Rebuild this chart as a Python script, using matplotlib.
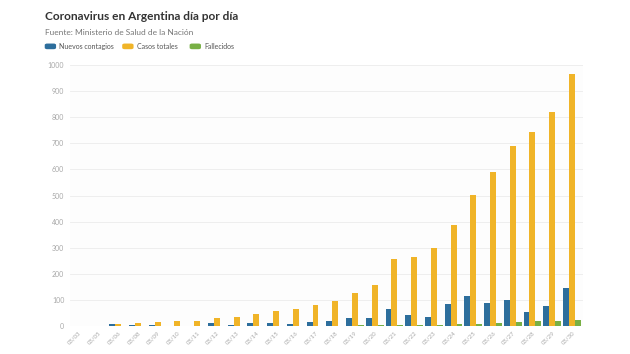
import numpy as np
import matplotlib
matplotlib.use("Agg")
import matplotlib.pyplot as plt
from matplotlib.patches import FancyBboxPatch

plt.rcParams["font.family"] = ["Lato", "DejaVu Sans"]

# Data
dates = ["03/03", "03/05", "03/06", "03/08", "03/09", "03/10", "03/11", "03/12",
         "03/13", "03/14", "03/15", "03/16", "03/17", "03/18", "03/19", "03/20",
         "03/21", "03/22", "03/23", "03/24", "03/25", "03/26", "03/27", "03/28",
         "03/29", "03/30"]
nuevos = [1, 1, 6, 3, 5, 2, 2, 10, 3, 11, 11, 9, 14, 18, 31, 30,
          67, 41, 35, 86, 116, 87, 101, 55, 75, 146]
totales = [1, 2, 8, 12, 17, 19, 21, 31, 34, 45, 56, 65, 79, 97, 128, 158,
           256, 266, 301, 387, 502, 589, 690, 745, 820, 966]
fallecidos = [0, 0, 0, 1, 1, 1, 1, 1, 2, 2, 2, 2, 2, 2, 3, 3,
              4, 4, 5, 6, 8, 12, 17, 18, 20, 24]

c_blue = "#2d6e9c"
c_yellow = "#f0b428"
c_green = "#78b045"

fig = plt.figure(figsize=(6.3, 3.54), dpi=100)
ax = fig.add_axes([0.111, 0.079, 0.814, 0.737])

x = np.arange(len(dates))
w = 0.3
ax.bar(x - w, nuevos, width=w, color=c_blue, zorder=3)
ax.bar(x, totales, width=w, color=c_yellow, zorder=3)
ax.bar(x + w, fallecidos, width=w, color=c_green, zorder=3)

ax.set_xlim(-0.45, len(dates) - 0.45)
ax.set_ylim(0, 1000)
ax.set_yticks(range(0, 1001, 100))
ax.yaxis.grid(True, color="#ececec", linewidth=0.6, zorder=0)
ax.set_facecolor("#fdfdfd")
for s in ax.spines.values():
    s.set_visible(False)
ax.tick_params(axis="y", length=0, labelsize=5, labelcolor="#a8a8a8", pad=4)
ax.tick_params(axis="x", length=0, labelsize=4.3, labelcolor="#a8a8a8", pad=3)
ax.set_xticks(x)
ax.set_xticklabels(dates, rotation=45, ha="right", rotation_mode="anchor")
ax.axhline(0, color="#dddddd", linewidth=0.6, zorder=2)

fig.text(0.071, 0.952, "Coronavirus en Argentina día por día", fontsize=8.6,
         fontweight="bold", color="#333333", va="center")
fig.text(0.071, 0.907, "Fuente: Ministerio de Salud de la Nación", fontsize=6,
         color="#777777", va="center")

legend_items = [("Nuevos contagios", c_blue, 0.071),
                ("Casos totales", c_yellow, 0.194),
                ("Fallecidos", c_green, 0.301)]
for label, col, xf in legend_items:
    box = FancyBboxPatch((xf, 0.861), 0.018, 0.016,
                         boxstyle="round,pad=0,rounding_size=0.004",
                         transform=fig.transFigure, facecolor=col,
                         edgecolor="none")
    fig.patches.append(box)
    fig.text(xf + 0.023, 0.869, label, fontsize=5, color="#555555", va="center")

fig.savefig("out.png", dpi=100)
